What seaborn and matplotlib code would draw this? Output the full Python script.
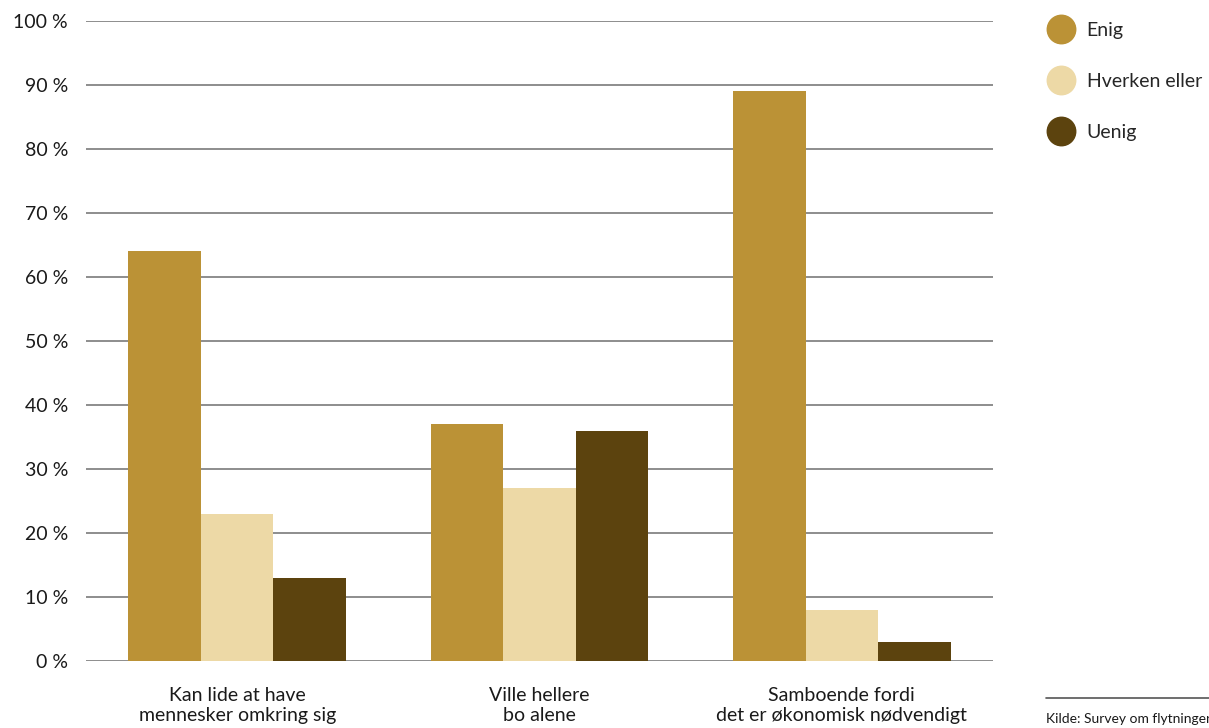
import matplotlib
matplotlib.use("Agg")
import matplotlib.pyplot as plt
import seaborn as sns
import pandas as pd
from matplotlib.lines import Line2D

categories = ["Kan lide at have\nmennesker omkring sig",
              "Ville hellere\nbo alene",
              "Samboende fordi\ndet er økonomisk nødvendigt"]
series = ["Enig", "Hverken eller", "Uenig"]
enig = [64, 37, 89]
hverken = [23, 27, 8]
uenig = [13, 36, 3]
yticks = [0, 10, 20, 30, 40, 50, 60, 70, 80, 90, 100]
colors = ["#BB9236", "#EDD9A6", "#5C430E"]

rows = []
for s, vals in zip(series, [enig, hverken, uenig]):
    for c, v in zip(categories, vals):
        rows.append({"cat": c, "series": s, "val": v})
df = pd.DataFrame(rows)

sns.set_theme(style="white")
plt.rcParams['font.family'] = ['Lato', 'DejaVu Sans']

fig = plt.figure(figsize=(12.09, 7.28), dpi=100)
ax = fig.add_axes([86/1209, 1-661/728, (993-86)/1209, (661-21)/728])

for t in yticks:
    ax.axhline(t, color="#7a7a7a", lw=1.2, zorder=0)

sns.barplot(data=df, x="cat", y="val", hue="series", order=categories,
            hue_order=series, palette=colors, width=0.72, gap=0,
            saturation=1, ax=ax, legend=False, zorder=2, linewidth=0)

ax.set_xlim(-0.5, 2.5)
ax.set_ylim(0, 100)
ax.set_yticks(yticks)
ax.set_yticklabels([f"{t} %" for t in yticks], fontsize=14, color="#1a1a1a")
ax.tick_params(axis="y", length=0, pad=13)
ax.tick_params(axis="x", length=0, pad=19, labelsize=14, labelcolor="#1a1a1a")
ax.set_xlabel("")
ax.set_ylabel("")
for sp in ax.spines.values():
    sp.set_visible(False)
for lab in ax.get_xticklabels():
    lab.set_linespacing(1.22)

handles = [Line2D([0], [0], marker="o", linestyle="", markersize=20.5,
                  markerfacecolor=c, markeredgecolor=c) for c in colors]
fig.legend(handles, series, loc="upper left",
           bbox_to_anchor=(1042/1209, 1-22/728), frameon=False,
           fontsize=14, labelspacing=1.74, handletextpad=0.3,
           borderaxespad=0, borderpad=0)

fig.add_artist(Line2D([1046/1209, 1.0], [1-698/728, 1-698/728],
                      transform=fig.transFigure, color="#555555", lw=1.2))
fig.text(1046/1209, 1-719/728, "Kilde: Survey om flytninger", fontsize=10,
         color="#1a1a1a", va="center", ha="left")

fig.savefig("out.png", dpi=100)
